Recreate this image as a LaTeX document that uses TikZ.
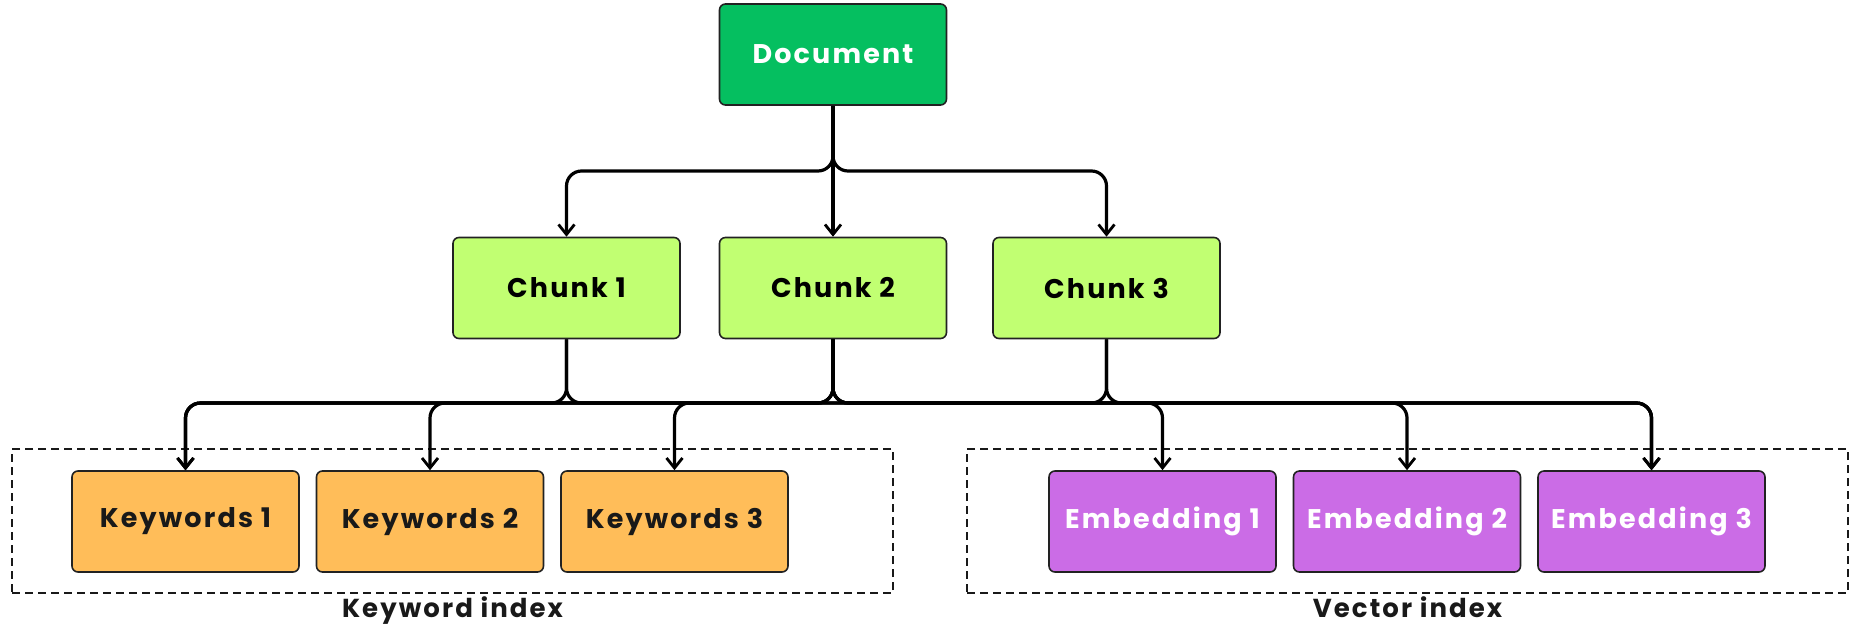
\documentclass[tikz,border=0pt]{standalone}
\usepackage{fontspec}
\setmainfont{Poppins}[LetterSpace=8]
\usetikzlibrary{arrows.meta}
\definecolor{docgreen}{HTML}{05BF60}
\definecolor{chunkgreen}{HTML}{C1FF72}
\definecolor{kworange}{HTML}{FFBD59}
\definecolor{embpurple}{HTML}{CB6CE6}
\definecolor{edge}{HTML}{222222}
\begin{document}
\begin{tikzpicture}[x=0.5pt,y=-0.5pt,
  box/.style={draw=edge, line width=0.8pt, rounded corners=3pt,
    minimum width=113.5pt, minimum height=50.5pt, inner sep=0pt,
    font=\bfseries\fontsize{13.5}{16}\selectfont},
  docbox/.style={box, fill=docgreen, text=white},
  chunkbox/.style={box, fill=chunkgreen, text=black},
  kwbox/.style={box, fill=kworange, text=black!90},
  embbox/.style={box, fill=embpurple, text=white},
  groupbox/.style={draw=black!90, line width=1.25pt, dash pattern=on 4pt off 2.5pt,
    inner sep=0pt},
  grouplabel/.style={font=\bfseries\fontsize{13}{16}\selectfont, text=black!90, anchor=base},
  conn/.style={draw=black, line width=1.6pt, rounded corners=7.5pt,
    -{Straight Barb[length=5pt,width=8pt,line width=1.4pt]}}
]
\useasboundingbox (0,0) rectangle (1851,627);

% group frames
\node[groupbox, minimum width=440.5pt, minimum height=72pt] (kgroup) at (452.5,521) {};
\node[groupbox, minimum width=440.5pt, minimum height=72pt] (vgroup) at (1407.5,521) {};
\node[grouplabel] (klabel) at (452.5,617) {Keyword index};
\node[grouplabel] (vlabel) at (1407.5,617) {Vector index};

% nodes
\node[docbox] (doc) at (833,54.5) {Document};
\node[chunkbox] (c1) at (566.5,288) {Chunk 1};
\node[chunkbox] (c2) at (833,288) {Chunk 2};
\node[chunkbox] (c3) at (1106.5,288) {Chunk 3};
\node[kwbox] (k1) at (185.5,521.5) {Keywords 1};
\node[kwbox] (k2) at (430,521.5) {Keywords 2};
\node[kwbox] (k3) at (674.5,521.5) {Keywords 3};
\node[embbox] (e1) at (1162.5,521.5) {Embedding 1};
\node[embbox] (e2) at (1407,521.5) {Embedding 2};
\node[embbox] (e3) at (1651.5,521.5) {Embedding 3};

\coordinate (busA) at (0,171);
\coordinate (busB) at (0,403);

% document to chunks
\draw[conn] (doc.south) -- (doc.south |- busA) -| (c1.north);
\draw[conn] (doc.south) -- (c2.north);
\draw[conn] (doc.south) -- (doc.south |- busA) -| (c3.north);

% chunk 2 to all leaves
\foreach \t in {k1,k2,k3,e1,e2,e3}
  \draw[conn] (c2.south) -- (c2.south |- busB) -| (\t.north);
% chunk 1 and chunk 3 join the bus
\foreach \c in {c1,c3}{
  \draw[conn] (\c.south) -- (\c.south |- busB) -| (k1.north);
  \draw[conn] (\c.south) -- (\c.south |- busB) -| (e3.north);
}
\end{tikzpicture}
\end{document}
